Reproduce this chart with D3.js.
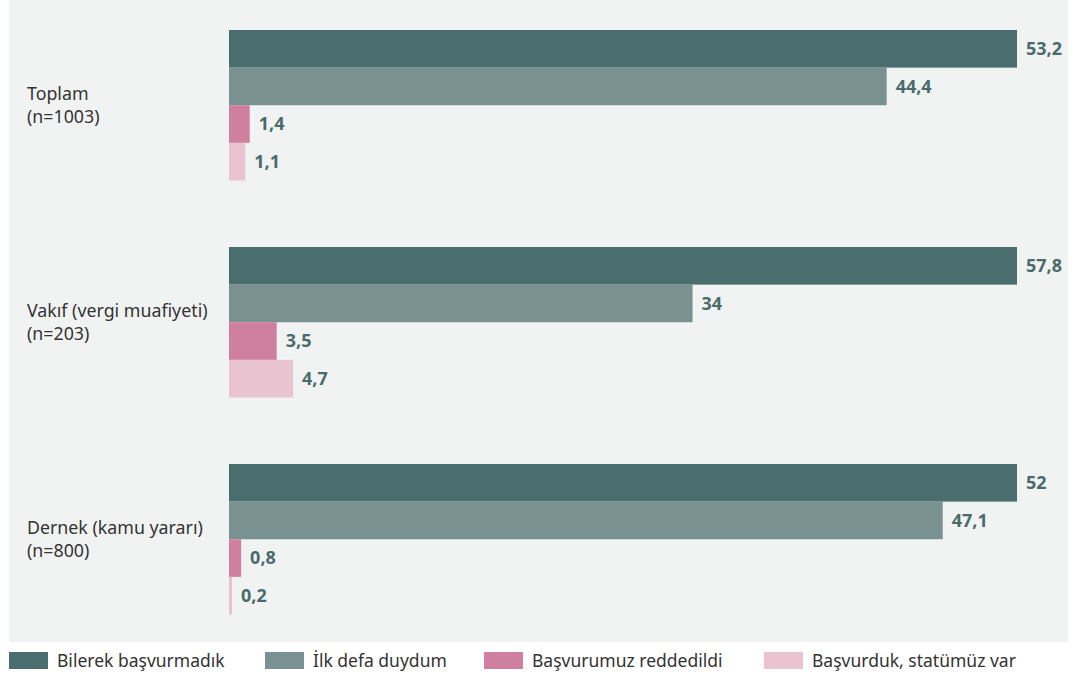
<!DOCTYPE html>
<html>
<head>
<meta charset="utf-8">
<script src="https://cdn.jsdelivr.net/npm/d3@7"></script>
<style>
  body { margin: 0; background: #fff; }
  text { font-family: "Noto Sans", "Open Sans", sans-serif; }
</style>
</head>
<body>
<div id="chart"></div>
<script>
const svgWidth = 1081, svgHeight = 677;

// Data
const groups = ["Toplam", "Vakıf (vergi muafiyeti)", "Dernek (kamu yararı)"];
const groupN = ["(n=1003)", "(n=203)", "(n=800)"];
const seriesNames = ["Bilerek başvurmadık", "İlk defa duydum", "Başvurumuz reddedildi", "Başvurduk, statümüz var"];
const bilerek = [53.2, 57.8, 52];
const ilkDefa = [44.4, 34, 47.1];
const reddedildi = [1.4, 3.5, 0.8];
const statu = [1.1, 4.7, 0.2];
const seriesValues = [bilerek, ilkDefa, reddedildi, statu];
const colors = ["#4a6e6e", "#7a9191", "#cf7f9f", "#e9c3cf"];

const svg = d3.select("#chart")
    .append("svg")
    .attr("width", svgWidth)
    .attr("height", svgHeight);

// background panel
svg.append("rect")
    .attr("x", 9).attr("y", 0)
    .attr("width", 1059).attr("height", 642)
    .attr("fill", "#f1f3f2");

const x0 = 229, barMax = 788;

// group band and inner series band
const yGroup = d3.scaleBand()
    .domain(groups)
    .range([30, 30 + 217 * 3]);

const ySeries = d3.scaleBand()
    .domain(seriesNames)
    .range([0, 150.5]);

groups.forEach((g, gi) => {
    const vals = seriesValues.map(s => s[gi]);
    // each group is scaled to its own maximum
    const x = d3.scaleLinear()
        .domain([0, d3.max(vals)])
        .range([x0, x0 + barMax]);

    const gEl = svg.append("g")
        .attr("transform", `translate(0, ${yGroup(g)})`);

    gEl.selectAll("rect")
        .data(vals)
        .enter().append("rect")
        .attr("x", x0)
        .attr("y", (d, i) => ySeries(seriesNames[i]))
        .attr("width", d => x(d) - x0)
        .attr("height", ySeries.bandwidth())
        .attr("fill", (d, i) => colors[i]);

    gEl.selectAll("text.val")
        .data(vals)
        .enter().append("text")
        .attr("class", "val")
        .attr("x", d => x(d) + 9)
        .attr("y", (d, i) => ySeries(seriesNames[i]) + ySeries.bandwidth() / 2)
        .attr("dy", "0.35em")
        .attr("fill", "#4a6b6b")
        .style("font-size", "18px")
        .style("font-weight", "bold")
        .text(d => String(d).replace(".", ","));

    // category label
    const mid = 150.5 / 2;
    gEl.append("text")
        .attr("x", 27)
        .attr("y", mid - 5)
        .attr("fill", "#333")
        .style("font-size", "17.8px")
        .text(g);
    gEl.append("text")
        .attr("x", 27)
        .attr("y", mid + 18)
        .attr("fill", "#333")
        .style("font-size", "17.8px")
        .text(groupN[gi]);
});

// legend
const legendX = [9, 265, 484, 764];
const legend = svg.append("g").attr("transform", "translate(0, 652)");
seriesNames.forEach((s, i) => {
    legend.append("rect")
        .attr("x", legendX[i]).attr("y", 0)
        .attr("width", 39).attr("height", 17)
        .attr("fill", colors[i]);
    legend.append("text")
        .attr("x", legendX[i] + 48)
        .attr("y", 8.5)
        .attr("dy", "0.35em")
        .attr("fill", "#333")
        .style("font-size", "17.5px")
        .text(s);
});
</script>
</body>
</html>
